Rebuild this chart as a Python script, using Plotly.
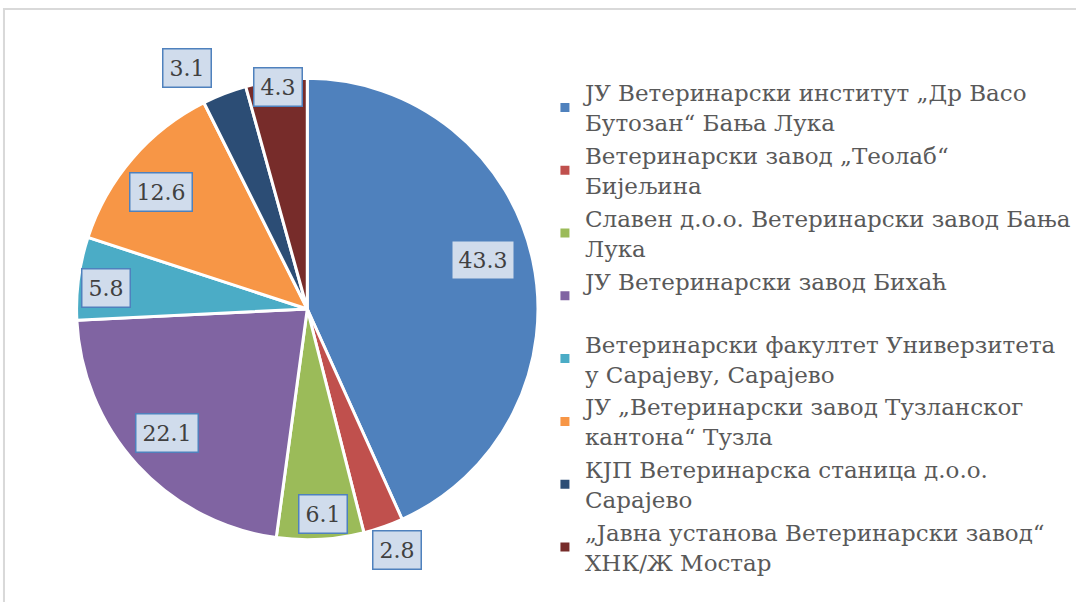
import math
import plotly.graph_objects as go

labels = [
    "ЈУ Ветеринарски институт „Др Васо<br>Бутозан“ Бања Лука",
    "Ветеринарски завод „Теолаб“<br>Бијељина",
    "Славен д.о.о. Ветеринарски завод Бања<br>Лука",
    "ЈУ Ветеринарски завод Бихаћ<br>\u00a0",
    "Ветеринарски факултет Универзитета<br>у Сарајеву, Сарајево",
    "ЈУ „Ветеринарски завод Тузланског<br>кантона“ Тузла",
    "КЈП Ветеринарска станица д.о.о.<br>Сарајево",
    "„Јавна установа Ветеринарски завод“<br>ХНК/Ж Мостар",
]
values = [43.3, 2.8, 6.1, 22.1, 5.8, 12.6, 3.1, 4.3]
colors = ["#4F81BD", "#C0504D", "#9BBB59", "#8064A2",
          "#4BACC6", "#F79646", "#2C4D75", "#772C2A"]

# label placement (radius factor, angle tweak in degrees)
label_rad = [0.79, 1.11, 0.886, 0.81, 0.876, 0.81, 1.16, 0.965]
label_dang = [-3.5, -1.3, -1.1, 1.2, -1.7, -2.3, -5.6, 0.2]

W, H = 1076, 602
CX, CY, R = 309, 309, 232
FONT = "DejaVu Serif"

fig = go.Figure()
fig.add_trace(go.Pie(
    labels=labels, values=values, sort=False, direction="clockwise",
    rotation=0, textinfo="none", hoverinfo="label+value",
    marker=dict(colors=colors, line=dict(color="white", width=3)),
    domain=dict(x=[(CX - R) / W, (CX + R) / W],
                y=[(H - CY - R) / H, (H - CY + R) / H]),
))

total = sum(values)
cum = 0
annotations = []
for v, f, da in zip(values, label_rad, label_dang):
    mid = (cum + v / 2) / total * 2 * math.pi + math.radians(da)
    cum += v
    px = CX + R * f * math.sin(mid)
    py = CY - R * f * math.cos(mid)
    annotations.append(dict(
        x=px / W, y=(H - py) / H, xref="paper", yref="paper",
        xanchor="center", yanchor="middle",
        text=str(v), showarrow=False,
        font=dict(family=FONT, size=22, color="#404040"),
        bgcolor="#d0dcec", bordercolor="#4F81BD", borderwidth=1.5,
        borderpad=6,
    ))

fig.update_layout(
    width=W, height=H,
    margin=dict(l=0, r=0, t=0, b=0),
    paper_bgcolor="white", plot_bgcolor="white",
    annotations=annotations,
    showlegend=True,
    legend=dict(x=548 / W, y=1 - 71 / H, xanchor="left", yanchor="top",
                font=dict(family=FONT, size=23, color="#595959"),
                bgcolor="rgba(0,0,0,0)", tracegroupgap=0),
    shapes=[dict(type="rect", xref="paper", yref="paper",
                 x0=4 / W, x1=1.02, y0=-0.02, y1=1 - 9 / H,
                 line=dict(color="#d9d9d9", width=2), layer="below")],
)

fig.write_html("out.html", config={"displayModeBar": False},
               post_script="document.body.style.margin='0';document.body.style.overflow='hidden';")
